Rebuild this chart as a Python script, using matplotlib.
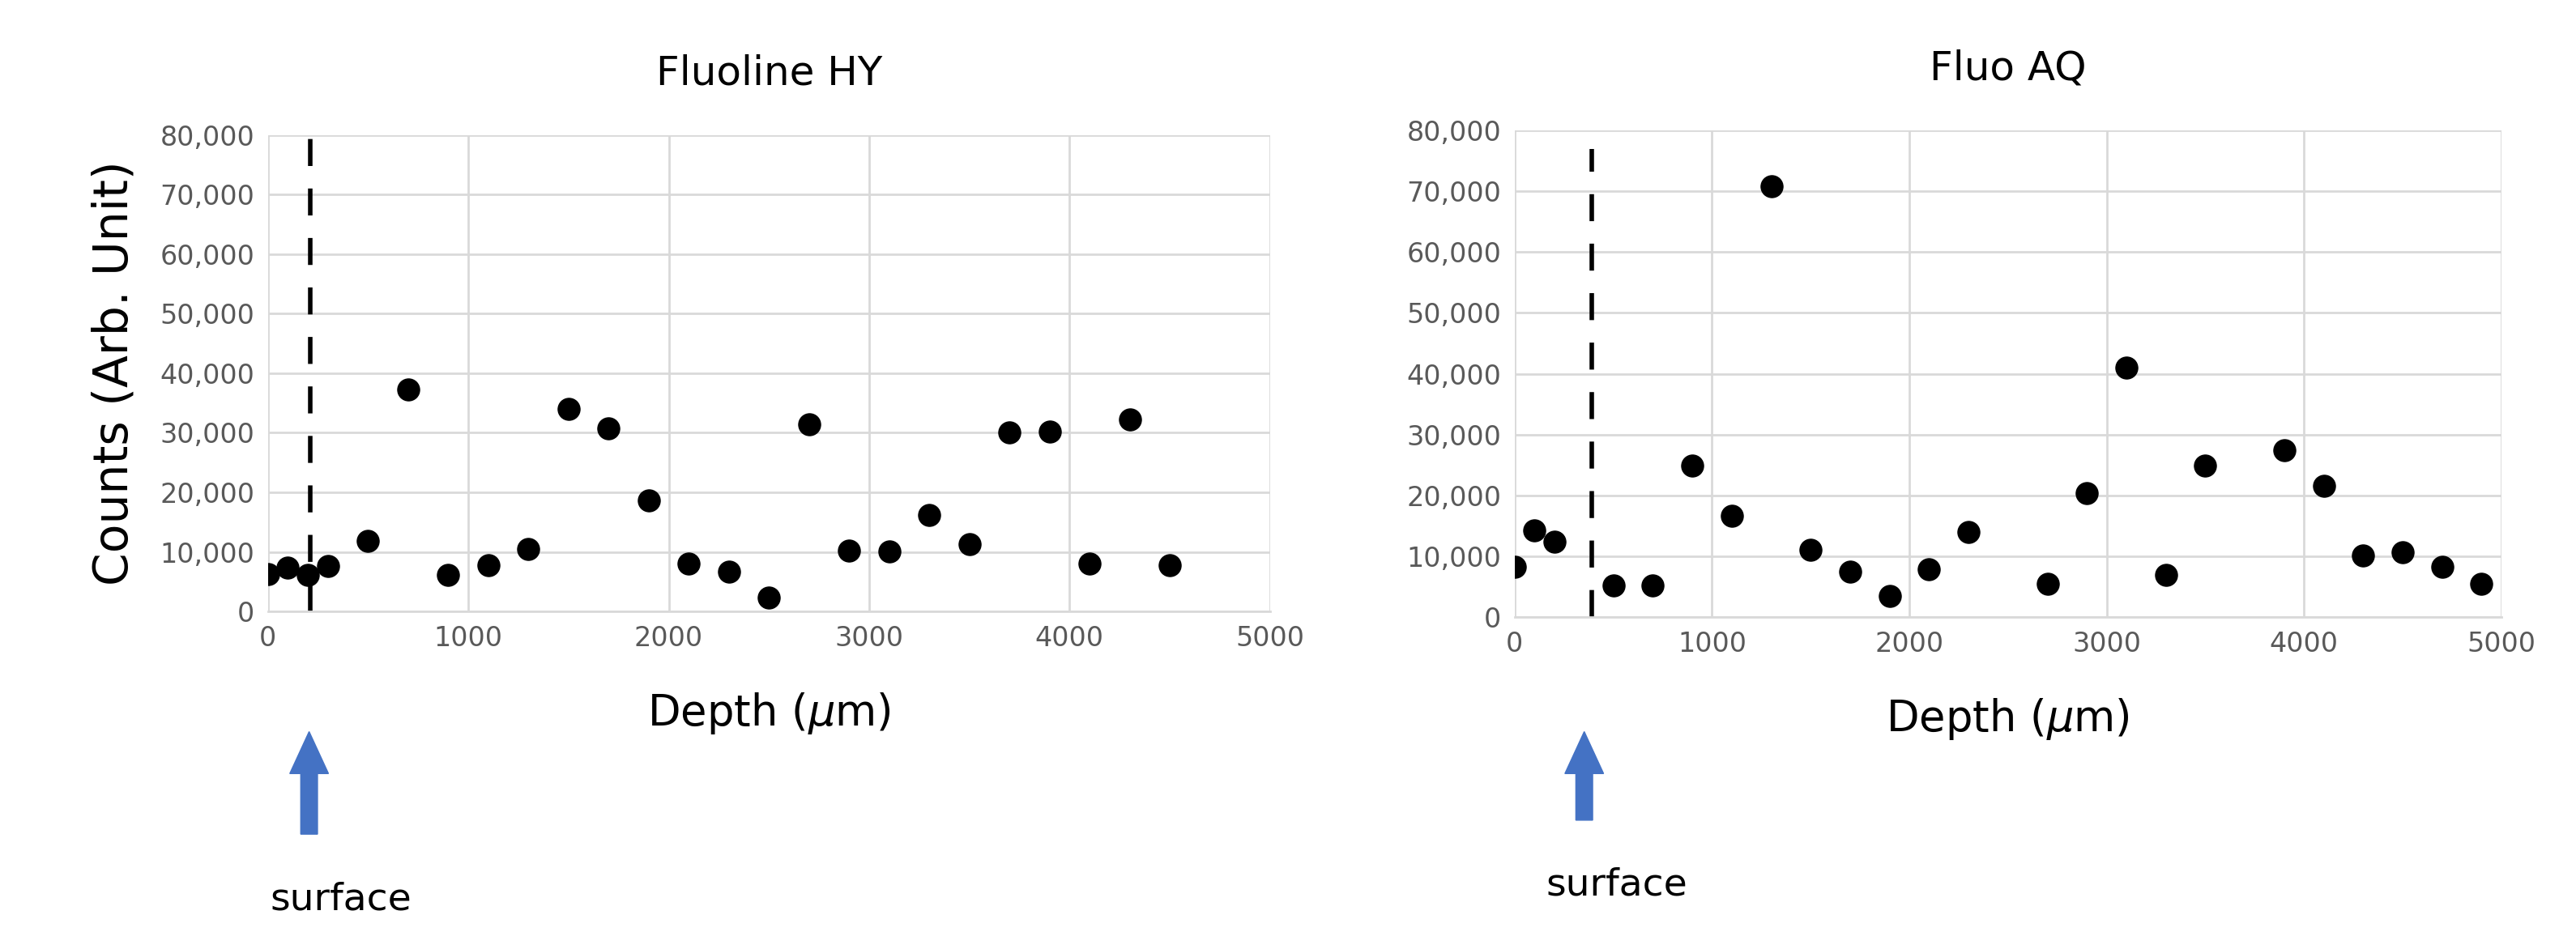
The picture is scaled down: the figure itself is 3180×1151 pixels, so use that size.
import numpy as np
import matplotlib.pyplot as plt

# Fluoline HY
hy_depth = [0, 100, 200, 300, 500, 700, 900, 1100, 1300, 1500, 1700, 1900, 2100,
            2300, 2500, 2700, 2900, 3100, 3300, 3500, 3700, 3900, 4100, 4300, 4500]
hy_counts = [6200, 7300, 6100, 7600, 11900, 37300, 6100, 7800, 10500, 34000, 30700,
             18700, 8100, 6700, 2300, 31400, 10200, 10100, 16200, 11300, 30000, 30200,
             8100, 32200, 7800]
hy_surface = 210

# Fluo AQ
aq_depth = [0, 100, 200, 500, 700, 900, 1100, 1300, 1500, 1700, 1900, 2100, 2300,
            2700, 2900, 3100, 3300, 3500, 3900, 4100, 4300, 4500, 4700, 4900]
aq_counts = [8200, 14300, 12400, 5200, 5200, 24900, 16700, 70800, 11100, 7400, 3500,
             7900, 14000, 5500, 20400, 41000, 6900, 24900, 27400, 21500, 10100, 10700,
             8200, 5500]
aq_surface = 390

fig = plt.figure(figsize=(31.8, 11.51), dpi=100)
ax1 = fig.add_axes([0.104, 0.344, 0.389, 0.511])
ax2 = fig.add_axes([0.588, 0.338, 0.383, 0.522])


def style(ax, title):
    ax.set_xlim(0, 5000)
    ax.set_ylim(0, 80000)
    ax.set_xticks(np.arange(0, 5001, 1000))
    ax.set_yticks(np.arange(0, 80001, 10000))
    ax.set_yticklabels(['0'] + [f'{v:,}' for v in range(10000, 80001, 10000)])
    ax.grid(True, color='#d9d9d9', linewidth=2)
    ax.set_axisbelow(True)
    for s in ['top', 'right', 'left']:
        ax.spines[s].set_visible(False)
    ax.spines['bottom'].set_color('#d9d9d9')
    ax.spines['bottom'].set_linewidth(2)
    ax.tick_params(length=0, labelsize=24, labelcolor='#595959', pad=12)
    ax.set_title(title, fontsize=36, pad=45)
    ax.set_xlabel('Depth ($\\mu$m)', fontsize=38, labelpad=35)


ax1.scatter(hy_depth, hy_counts, s=380, color='black', zorder=3)
ax1.plot([hy_surface, hy_surface], [0, 80000], 'k--', linewidth=4, dashes=(6, 5))
style(ax1, 'Fluoline HY')
ax1.set_ylabel('Counts (Arb. Unit)', fontsize=42, labelpad=20)

ax2.scatter(aq_depth, aq_counts, s=380, color='black', zorder=3)
ax2.plot([aq_surface, aq_surface], [0, 77000], 'k--', linewidth=4, dashes=(6, 5))
style(ax2, 'Fluo AQ')

for x, ytext in [(0.120, 0.035), (0.615, 0.05)]:
    fig.patches.append(plt.matplotlib.patches.FancyArrow(
        x, 0.105 if x < 0.5 else 0.12, 0, 0.11 if x < 0.5 else 0.095,
        width=0.0065, head_width=0.015, head_length=0.045,
        length_includes_head=True, color='#4472c4', transform=fig.transFigure))
    fig.text(x - 0.015, ytext, 'surface', fontsize=34, va='center')

fig.savefig('out.png')
